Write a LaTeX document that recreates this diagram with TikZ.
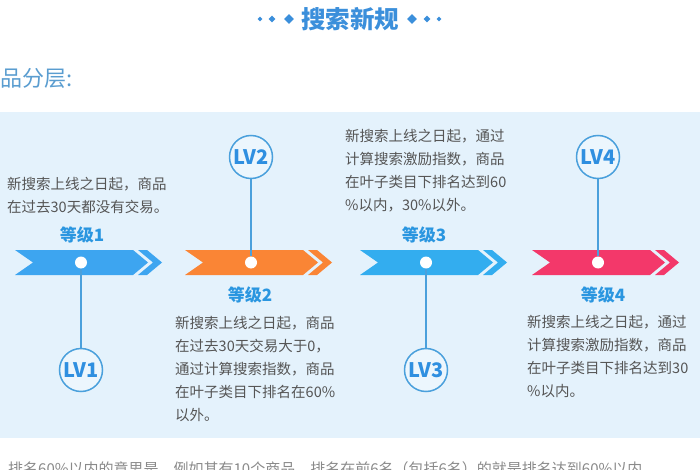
\documentclass[tikz,border=0pt]{standalone}
\usepackage{fontspec}
\setmainfont{Noto Sans CJK SC}
\usetikzlibrary{shapes.geometric}
\definecolor{titleblue}{HTML}{3B8FDB}
\definecolor{subblue}{HTML}{5A9DD0}
\definecolor{bandblue}{HTML}{E4F2FC}
\definecolor{circfill}{HTML}{ECF6FD}
\definecolor{textgray}{HTML}{555555}
\definecolor{notegray}{HTML}{8A8A8A}
\definecolor{gradeblue}{HTML}{2A96E0}
\definecolor{lineblue}{HTML}{4AA0DC}
\definecolor{lvblue}{HTML}{2F8FE0}
\definecolor{arrowA}{HTML}{3DA5F0}
\definecolor{arrowB}{HTML}{FA8535}
\definecolor{arrowC}{HTML}{33ADEF}
\definecolor{arrowD}{HTML}{F3386A}

\begin{document}
\begin{tikzpicture}[x=1pt,y=-1pt,
	txt/.style={anchor=north west,align=left,inner sep=0,font=\fontsize{14.5}{23}\selectfont,text=textgray},
	grade/.style={inner sep=0,font=\fontsize{17}{17}\selectfont\bfseries,text=gradeblue},
	lv/.style={draw=lineblue,line width=1.5pt,circle,fill=circfill,minimum size=43pt,inner sep=0,font=\fontsize{20}{20}\selectfont\bfseries,text=lvblue},
	hole/.style={circle,fill=white,inner sep=0,minimum size=12pt},
	stemline/.style={draw=lineblue,line width=2pt},
	gem/.style={diamond,fill=titleblue,inner sep=0}]
	\path[use as bounding box,clip] (0,0) rectangle (700,470);
	\fill[white] (0,0) rectangle (700,470);
	\fill[bandblue] (0,112) rectangle (700,438);
	% title
	\node[inner sep=0,font=\fontsize{24.5}{24.5}\selectfont\bfseries,text=titleblue] (title) at (350,19) {搜索新规};
	\node[gem,minimum size=5pt] (gl1) at (260,19) {};
	\node[gem,minimum size=7pt] (gl2) at (272,19) {};
	\node[gem,minimum size=10pt] (gl3) at (289,19) {};
	\node[gem,minimum size=10pt] (gr3) at (412,19) {};
	\node[gem,minimum size=7pt] (gr2) at (427,19) {};
	\node[gem,minimum size=5pt] (gr1) at (439,19) {};
	\node[anchor=west,inner sep=0,font=\fontsize{22}{22}\selectfont,text=subblue] (sub) at (0,78) {品分层:};
	% banners
	\fill[arrowA] (15,250) -- (133,250) -- (148,262.5) -- (133,275) -- (15,275) -- (33,262.5) -- cycle;
	\fill[arrowA] (138,250) -- (147,250) -- (162,262.5) -- (147,275) -- (138,275) -- (153,262.5) -- cycle;
	\fill[arrowB] (185,250) -- (303,250) -- (318,262.5) -- (303,275) -- (185,275) -- (203,262.5) -- cycle;
	\fill[arrowB] (308,250) -- (317,250) -- (332,262.5) -- (317,275) -- (308,275) -- (323,262.5) -- cycle;
	\fill[arrowC] (360,250) -- (478,250) -- (493,262.5) -- (478,275) -- (360,275) -- (378,262.5) -- cycle;
	\fill[arrowC] (483,250) -- (492,250) -- (507,262.5) -- (492,275) -- (483,275) -- (498,262.5) -- cycle;
	\fill[arrowD] (532,250) -- (650,250) -- (665,262.5) -- (650,275) -- (532,275) -- (550,262.5) -- cycle;
	\fill[arrowD] (655,250) -- (664,250) -- (679,262.5) -- (664,275) -- (655,275) -- (670,262.5) -- cycle;
	\node[hole] (hole1) at (81,262.5) {};
	\node[hole] (hole2) at (251,262.5) {};
	\node[hole] (hole3) at (426,262.5) {};
	\node[hole] (hole4) at (598,262.5) {};
	% levels
	\node[lv] (lv1) at (81,370) {LV1};
	\node[lv] (lv2) at (251,157) {LV2};
	\node[lv] (lv3) at (426,370) {LV3};
	\node[lv] (lv4) at (598,157) {LV4};
	\draw[stemline] (hole1) -- (lv1);
	\draw[stemline] (lv2) -- (hole2);
	\draw[stemline] (hole3) -- (lv3);
	\draw[stemline] (lv4) -- (hole4);
	\node[grade] (g1) at (82,235) {等级1};
	\node[grade] (g2) at (250,295) {等级2};
	\node[grade] (g3) at (424,235) {等级3};
	\node[grade] (g4) at (603,295) {等级4};
	\node[txt] (t1) at (7,177) {新搜索上线之日起，商品\\在过去30天都没有交易。};
	\node[txt] (t2) at (175,316) {新搜索上线之日起，商品\\在过去30天交易大于0，\\通过计算搜索指数，商品\\在叶子类目下排名在60\%\\以外。};
	\node[txt] (t3) at (345,129) {新搜索上线之日起，通过\\计算搜索激励指数，商品\\在叶子类目下排名达到60\\\%以内，30\%以外。};
	\node[txt] (t4) at (527,315) {新搜索上线之日起，通过\\计算搜索激励指数，商品\\在叶子类目下排名达到30\\\%以内。};
	\node[anchor=west,inner sep=0,font=\fontsize{15}{15}\selectfont,text=notegray] (note) at (8,469) {排名60\%以内的意思是，例如其有10个商品，排名在前6名（包括6名）的就是排名达到60\%以内};
\end{tikzpicture}
\end{document}
